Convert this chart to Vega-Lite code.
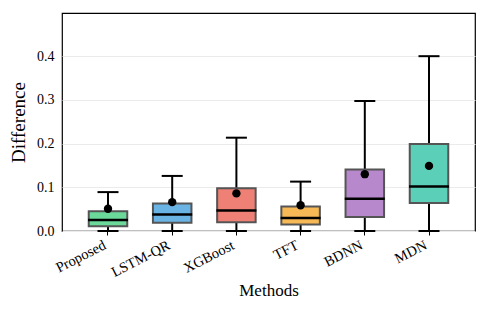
{
  "$schema": "https://vega.github.io/schema/vega-lite/v6.json",
  "width": 413,
  "height": 218,
  "autosize": {"type": "none"},
  "padding": {"left": 62, "top": 13, "right": 13, "bottom": 83},
  "background": "white",
  "config": {
    "font": "Liberation Serif",
    "view": {"stroke": "black", "strokeWidth": 1.2},
    "axis": {"labelFont": "Liberation Serif", "titleFont": "Liberation Serif", "labelColor": "black", "titleColor": "black", "titleFontWeight": "normal", "domain": false},
    "axisY": {"labelFont": "Liberation Serif", "labelFontSize": 14, "titleFont": "Liberation Serif", "titleFontSize": 19},
    "axisQuantitative": {"labelFont": "Liberation Serif", "labelFontSize": 14}
  },
  "data": {
    "values": [
      {"method": "Proposed", "lower": 0, "q1": 0.011, "median": 0.025, "q3": 0.045, "upper": 0.089, "mean": 0.051, "color": "Proposed"},
      {"method": "LSTM-QR", "lower": 0, "q1": 0.019, "median": 0.038, "q3": 0.063, "upper": 0.126, "mean": 0.066, "color": "LSTM-QR"},
      {"method": "XGBoost", "lower": 0, "q1": 0.020, "median": 0.047, "q3": 0.098, "upper": 0.2135, "mean": 0.086, "color": "XGBoost"},
      {"method": "TFT", "lower": 0, "q1": 0.015, "median": 0.030, "q3": 0.056, "upper": 0.113, "mean": 0.059, "color": "TFT"},
      {"method": "BDNN", "lower": 0, "q1": 0.032, "median": 0.074, "q3": 0.141, "upper": 0.2975, "mean": 0.130, "color": "BDNN"},
      {"method": "MDN", "lower": 0, "q1": 0.064, "median": 0.102, "q3": 0.199, "upper": 0.400, "mean": 0.149, "color": "MDN"}
    ]
  },
  "encoding": {
    "x": {
      "field": "method", "type": "nominal", "sort": null,
      "scale": {"paddingInner": 0.4, "paddingOuter": 0.4165},
      "axis": {"title": "Methods", "titleFont": "Liberation Serif", "titleFontSize": 17, "titlePadding": 4, "labelFont": "Liberation Serif", "labelFontSize": 14.5, "labelAngle": -27, "labelAlign": "right", "labelBaseline": "top", "labelPadding": 3, "labelOffset": -6, "ticks": true, "tickSize": 4, "tickColor": "black", "grid": false}
    }
  },
  "layer": [
    {
      "mark": {"type": "rule", "color": "black", "strokeWidth": 2},
      "encoding": {
        "y": {"field": "lower", "type": "quantitative", "scale": {"domain": [0, 0.4988], "nice": false, "zero": true},
          "axis": {"title": "Difference", "titleFont": "Liberation Serif", "titleFontSize": 19, "titlePadding": 8, "labelFont": "Liberation Serif", "labelFontSize": 14, "values": [0, 0.1, 0.2, 0.3, 0.4], "format": ".1f", "ticks": false, "labelPadding": 8, "grid": true, "gridColor": "#ebebeb", "gridWidth": 1}},
        "y2": {"field": "q1"}
      }
    },
    {
      "mark": {"type": "rule", "color": "black", "strokeWidth": 2},
      "encoding": {"y": {"field": "q3", "type": "quantitative"}, "y2": {"field": "upper"}}
    },
    {
      "mark": {"type": "bar", "stroke": "#555555", "strokeWidth": 2, "opacity": 1},
      "encoding": {
        "y": {"field": "q1", "type": "quantitative"},
        "y2": {"field": "q3"},
        "color": {"field": "color", "type": "nominal", "legend": null,
          "scale": {"domain": ["Proposed", "LSTM-QR", "XGBoost", "TFT", "BDNN", "MDN"],
                    "range": ["#6ad99a", "#6ab4e5", "#ee8075", "#f6b955", "#b888cc", "#5ccfb9"]}}
      }
    },
    {
      "mark": {"type": "tick", "color": "black", "thickness": 2.5, "size": 40, "opacity": 1},
      "encoding": {"y": {"field": "median", "type": "quantitative"}}
    },
    {
      "mark": {"type": "tick", "color": "black", "thickness": 2, "size": 21, "opacity": 1},
      "encoding": {"y": {"field": "upper", "type": "quantitative"}}
    },
    {
      "mark": {"type": "tick", "color": "black", "thickness": 2, "size": 21, "opacity": 1},
      "encoding": {"y": {"field": "lower", "type": "quantitative"}}
    },
    {
      "mark": {"type": "point", "filled": true, "color": "black", "size": 70, "opacity": 1},
      "encoding": {"y": {"field": "mean", "type": "quantitative"}}
    }
  ]
}
